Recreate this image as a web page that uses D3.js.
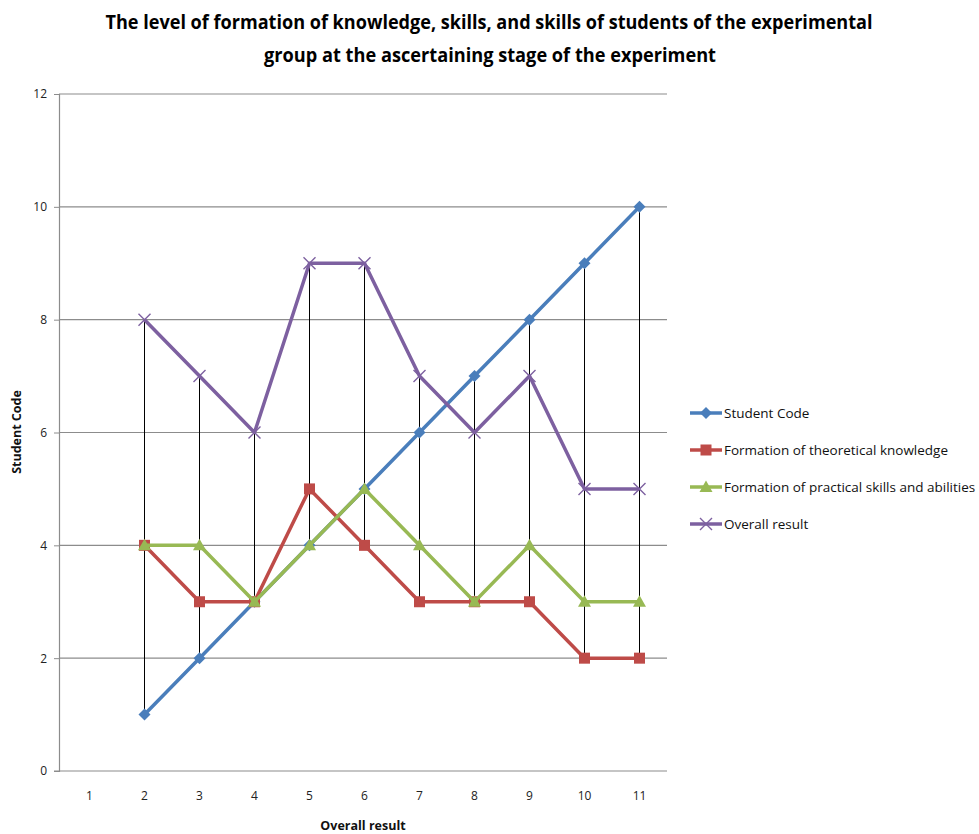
<!DOCTYPE html>
<html>
<head>
<meta charset="utf-8">
<script src="https://cdn.jsdelivr.net/npm/d3@7/dist/d3.min.js"></script>
<style>
  body { margin: 0; background: #fff; }
  svg { display: block; }
  text { font-family: "Open Sans", "DejaVu Sans", sans-serif; }
</style>
</head>
<body>
<svg id="chart" width="979" height="834"></svg>
<script>
// Categories along the horizontal axis
const categories = ["1", "2", "3", "4", "5", "6", "7", "8", "9", "10", "11"];
const yTicks = [0, 2, 4, 6, 8, 10, 12];

// Series values (null = no point for that category)
const studentCode  = [null, 1, 2, 3, 4, 5, 6, 7, 8, 9, 10];
const theoretical  = [null, 4, 3, 3, 5, 4, 3, 3, 3, 2, 2];
const practical    = [null, 4, 4, 3, 4, 5, 4, 3, 4, 3, 3];
const overall      = [null, 8, 7, 6, 9, 9, 7, 6, 7, 5, 5];

const seriesNames = [
  "Student Code",
  "Formation of theoretical knowledge",
  "Formation of practical skills and abilities",
  "Overall result"
];

const series = [
  { name: seriesNames[0], values: studentCode, color: "#4a7ebb", marker: "diamond" },
  { name: seriesNames[1], values: theoretical, color: "#be4b48", marker: "square" },
  { name: seriesNames[2], values: practical,   color: "#98b954", marker: "triangle" },
  { name: seriesNames[3], values: overall,     color: "#7d60a0", marker: "x" }
];

const svg = d3.select("#chart");
const plot = { left: 59, right: 667, top: 94, bottom: 771 };

const x = d3.scaleBand().domain(categories).range([62, plot.right]);
const y = d3.scaleLinear().domain([0, 12]).range([plot.bottom, plot.top]);
const cx = c => x(c) + x.bandwidth() / 2;

// Title
const title = svg.append("text")
  .attr("text-anchor", "middle")
  .attr("font-weight", "bold")
  .attr("font-size", 20)
  .attr("fill", "#000");
title.append("tspan").attr("x", 489).attr("y", 29)
  .attr("textLength", 767).attr("lengthAdjust", "spacingAndGlyphs")
  .text("The level of formation of knowledge, skills, and skills of students of the experimental");
title.append("tspan").attr("x", 490).attr("y", 62)
  .attr("textLength", 452).attr("lengthAdjust", "spacingAndGlyphs")
  .text("group at the ascertaining stage of the experiment");

// Horizontal gridlines
svg.append("g").selectAll("line")
  .data(yTicks.filter(t => t > 0))
  .join("line")
  .attr("x1", plot.left).attr("x2", plot.right)
  .attr("y1", d => y(d)).attr("y2", d => y(d))
  .attr("stroke", "#8c8c8c").attr("stroke-width", 1.2);

// Y axis
const yAxis = svg.append("g")
  .attr("transform", `translate(${plot.left},0)`)
  .call(d3.axisLeft(y).tickValues(yTicks).tickSize(5).tickPadding(7).tickFormat(d3.format("d")));
yAxis.select(".domain").attr("stroke", "#8c8c8c").attr("stroke-width", 1.2);
yAxis.selectAll(".tick line").attr("stroke", "#8c8c8c");
yAxis.selectAll("text").attr("font-size", 12).attr("fill", "#222")
  .attr("font-family", "'Open Sans', sans-serif");

// X axis
const xAxis = svg.append("g")
  .attr("transform", `translate(0,${plot.bottom})`)
  .call(d3.axisBottom(x).tickSize(0).tickPadding(20).tickSizeOuter(0));
xAxis.select(".domain").attr("stroke", "#8c8c8c").attr("stroke-width", 1.2)
  .attr("d", `M${plot.left - 5},0H${plot.right}`);
xAxis.selectAll("text").attr("font-size", 12).attr("fill", "#222")
  .attr("font-family", "'Open Sans', sans-serif");

// Axis titles
svg.append("text")
  .attr("x", 363).attr("y", 830)
  .attr("text-anchor", "middle")
  .attr("font-size", 12.5).attr("font-weight", "bold").attr("fill", "#111")
  .text("Overall result");
svg.append("text")
  .attr("transform", "translate(21,432) rotate(-90)")
  .attr("text-anchor", "middle")
  .attr("font-size", 12.5).attr("font-weight", "bold").attr("fill", "#111")
  .text("Student Code");

// High-low lines joining the series at each category
const hiLo = categories.map((c, i) => {
  const vals = series.map(s => s.values[i]).filter(v => v != null);
  return vals.length ? { c, hi: d3.max(vals), lo: d3.min(vals) } : null;
}).filter(d => d);
svg.append("g").selectAll("line")
  .data(hiLo)
  .join("line")
  .attr("x1", d => cx(d.c)).attr("x2", d => cx(d.c))
  .attr("y1", d => y(d.hi)).attr("y2", d => y(d.lo))
  .attr("stroke", "#000").attr("stroke-width", 1);

// Marker shapes
function drawMarker(g, type, color, px, py) {
  if (type === "diamond") {
    g.append("path").attr("d", "M0,-6L6,0L0,6L-6,0Z")
      .attr("transform", `translate(${px},${py})`)
      .attr("fill", color);
  } else if (type === "square") {
    g.append("rect").attr("x", px - 5.5).attr("y", py - 5.5)
      .attr("width", 11).attr("height", 11).attr("fill", color);
  } else if (type === "triangle") {
    g.append("path").attr("d", "M0,-6.5L6.5,5L-6.5,5Z")
      .attr("transform", `translate(${px},${py})`).attr("fill", color);
  } else if (type === "x") {
    g.append("path").attr("d", "M-6,-6L6,6M-6,6L6,-6")
      .attr("transform", `translate(${px},${py})`)
      .attr("stroke", color).attr("stroke-width", 1.4).attr("fill", "none");
  }
}

const line = d3.line()
  .defined(d => d.v != null)
  .x(d => cx(d.c)).y(d => y(d.v));

series.forEach(s => {
  const pts = categories.map((c, i) => ({ c, v: s.values[i] }));
  const g = svg.append("g");
  g.append("path").datum(pts)
    .attr("d", line)
    .attr("fill", "none")
    .attr("stroke", s.color)
    .attr("stroke-width", 3.5)
    .attr("stroke-linejoin", "round");
  pts.filter(p => p.v != null).forEach(p => drawMarker(g, s.marker, s.color, cx(p.c), y(p.v)));
});

// Legend
const legend = svg.append("g");
series.forEach((s, i) => {
  const ly = 413 + i * 37;
  legend.append("line")
    .attr("x1", 690).attr("x2", 722).attr("y1", ly).attr("y2", ly)
    .attr("stroke", s.color).attr("stroke-width", 3.5);
  drawMarker(legend, s.marker, s.color, 706, ly);
  legend.append("text")
    .attr("x", 724).attr("y", ly + 4.5)
    .attr("font-size", 13.5).attr("fill", "#111")
    .attr("textLength", s.name.length ? null : null)
    .text(s.name);
});
</script>
</body>
</html>
